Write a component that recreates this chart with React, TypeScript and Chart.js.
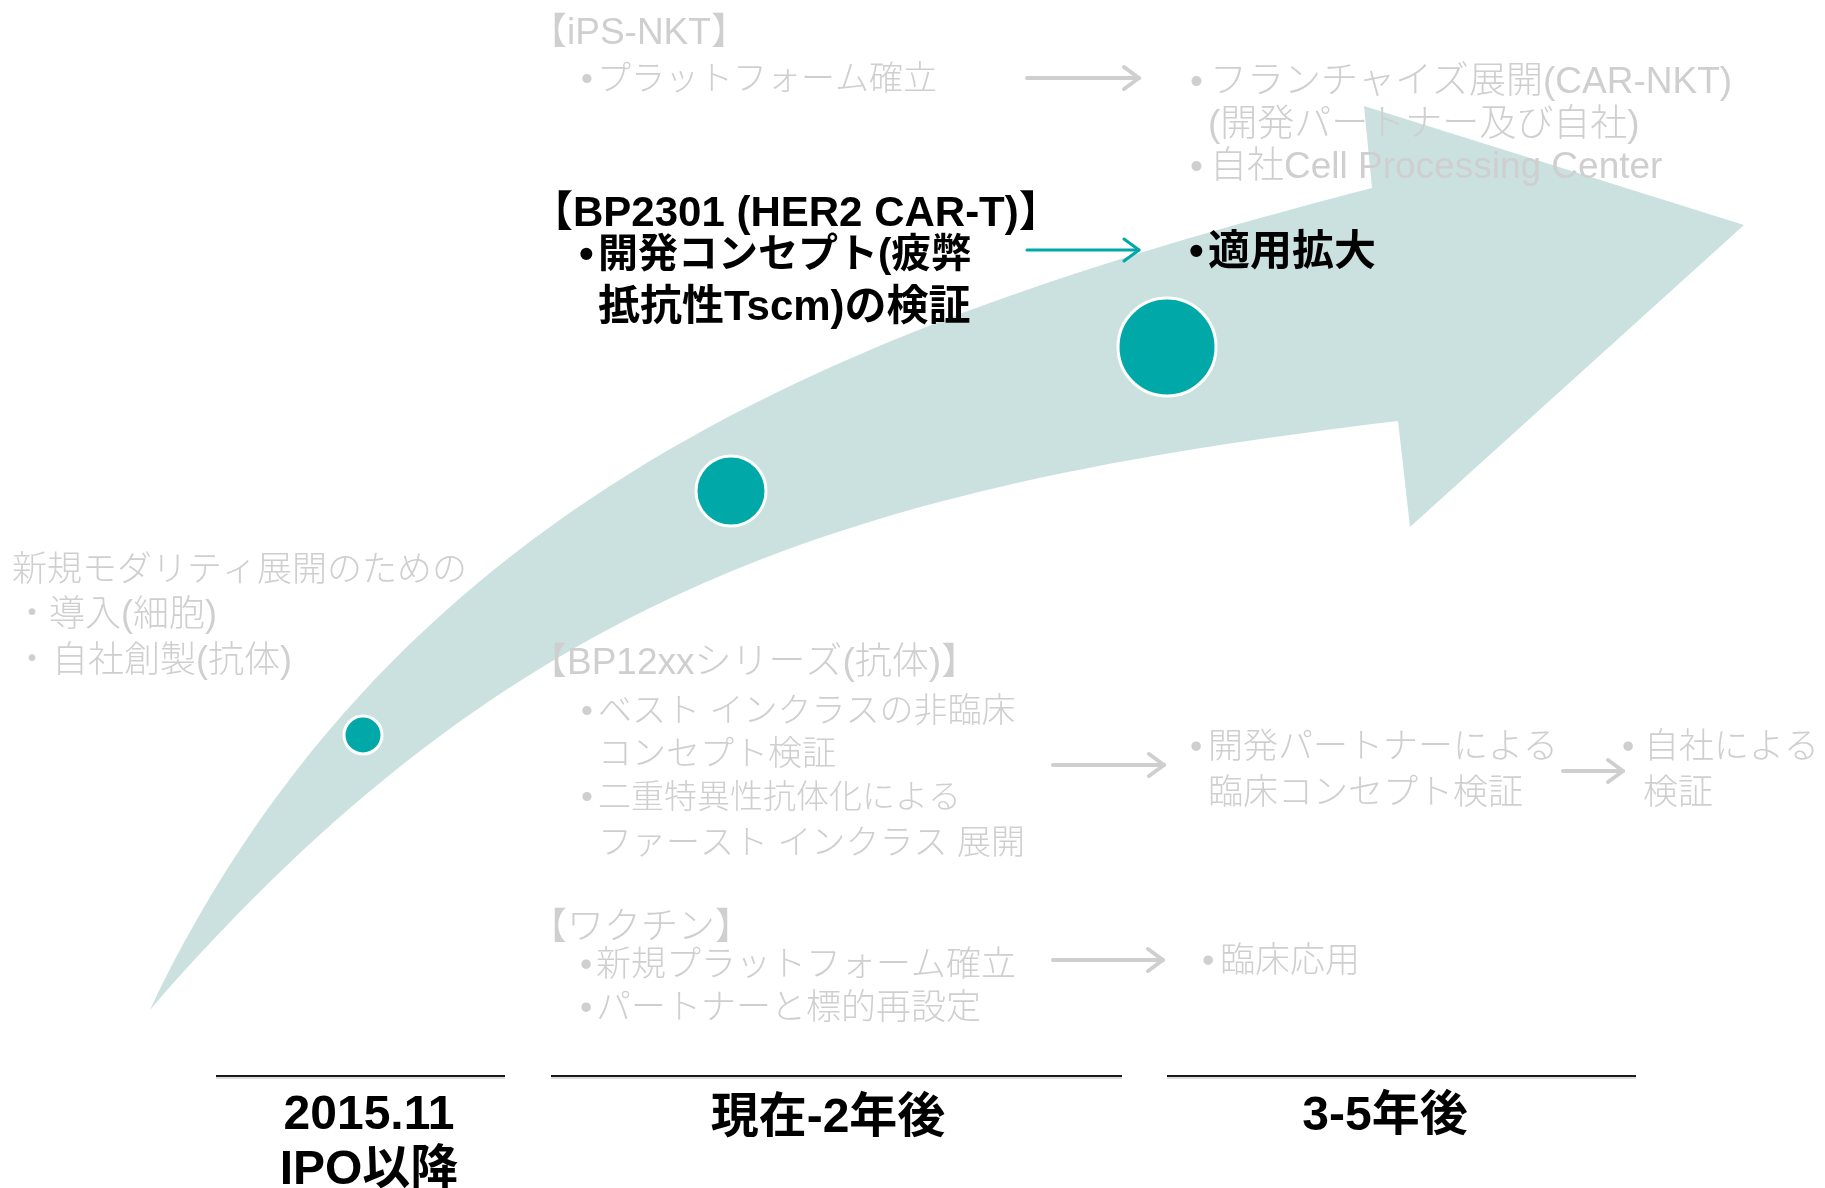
import React, { useEffect, useRef } from "react";
import { Chart, registerables } from "chart.js";

Chart.register(...registerables);

// ---- data ----
const stageX = [363, 731, 1167];
const stageY = [735, 491, 347];
const stageR = [19, 35, 49];

// arrow band: cubic Bezier control points of the two edges, and the head polygon
const arrowUpperX = [150, 400, 872, 1372];
const arrowUpperY = [1010, 485, 318, 188];
const arrowLowerX = [150, 515, 848, 1398];
const arrowLowerY = [1010, 590, 487, 421];
const arrowHeadX = [1372, 1364, 1744, 1410, 1398];
const arrowHeadY = [188, 106, 225, 527, 421];

const periodLabels = ["2015.11", "IPO以降", "現在-2年後", "3-5年後"];

const W = 1825;
const H = 1188;

const GRAY = "#cfcfcf";
const TEAL = "#00a9a7";
const BAND = "#cae1e0";
const FONT_R = '"Liberation Sans", "Noto Sans CJK JP", sans-serif';

type TextItem = { t: string; x: number; y: number; s: number; bold?: boolean; c?: string; align?: CanvasTextAlign };

const texts: TextItem[] = [
  { t: "【iPS-NKT】", x: 530, y: 34, s: 37 },
  { t: "•", x: 581, y: 81, s: 34 },
  { t: "プラットフォーム確立", x: 597, y: 81, s: 34 },
  { t: "•", x: 1190, y: 83, s: 37 },
  { t: "フランチャイズ展開(CAR-NKT)", x: 1210, y: 83, s: 37 },
  { t: "(開発パートナー及び自社)", x: 1208, y: 126, s: 37 },
  { t: "•", x: 1190, y: 168, s: 37 },
  { t: "自社Cell Processing Center", x: 1210, y: 168, s: 37 },
  { t: "新規モダリティ展開のための", x: 12, y: 571, s: 35 },
  { t: "・", x: 14, y: 616, s: 36 },
  { t: "導入(細胞)", x: 49, y: 616, s: 36 },
  { t: "・", x: 14, y: 662, s: 36 },
  { t: "自社創製(抗体)", x: 52, y: 662, s: 36 },
  { t: "【BP12xxシリーズ(抗体)】", x: 530, y: 664, s: 37 },
  { t: "•", x: 581, y: 713, s: 34 },
  { t: "ベスト インクラスの非臨床", x: 598, y: 713, s: 34 },
  { t: "コンセプト検証", x: 598, y: 756, s: 34 },
  { t: "•", x: 581, y: 799, s: 34 },
  { t: "二重特異性抗体化による", x: 598, y: 799, s: 33 },
  { t: "ファースト インクラス 展開", x: 598, y: 845, s: 34 },
  { t: "•", x: 1190, y: 748, s: 35 },
  { t: "開発パートナーによる", x: 1208, y: 748, s: 35 },
  { t: "臨床コンセプト検証", x: 1208, y: 794, s: 35 },
  { t: "•", x: 1622, y: 748, s: 35 },
  { t: "自社による", x: 1644, y: 748, s: 35 },
  { t: "検証", x: 1643, y: 794, s: 35 },
  { t: "【ワクチン】", x: 530, y: 929, s: 37 },
  { t: "•", x: 580, y: 966, s: 35 },
  { t: "新規プラットフォーム確立", x: 596, y: 966, s: 35 },
  { t: "•", x: 580, y: 1009, s: 35 },
  { t: "パートナーと標的再設定", x: 596, y: 1009, s: 35 },
  { t: "•", x: 1202, y: 962, s: 35 },
  { t: "臨床応用", x: 1220, y: 962, s: 35 },
  { t: "【BP2301 (HER2 CAR-T)】", x: 531, y: 214, s: 42, bold: true, c: "#000" },
  { t: "•", x: 579, y: 256, s: 42, bold: true, c: "#000" },
  { t: "開発コンセプト(疲弊", x: 598, y: 256, s: 40, bold: true, c: "#000" },
  { t: "抵抗性Tscm)の検証", x: 598, y: 308, s: 42, bold: true, c: "#000" },
  { t: "•", x: 1189, y: 253, s: 42, bold: true, c: "#000" },
  { t: "適用拡大", x: 1208, y: 253, s: 42, bold: true, c: "#000" },
  { t: periodLabels[0], x: 369, y: 1116, s: 48, bold: true, c: "#000", align: "center" },
  { t: periodLabels[1], x: 369, y: 1171, s: 48, bold: true, c: "#000", align: "center" },
  { t: periodLabels[2], x: 828, y: 1119, s: 48, bold: true, c: "#000", align: "center" },
  { t: periodLabels[3], x: 1385, y: 1117, s: 48, bold: true, c: "#000", align: "center" },
];

const flowArrows = [
  { x1: 1027, x2: 1139, y: 78, c: GRAY, w: 4 },
  { x1: 1027, x2: 1139, y: 250, c: TEAL, w: 3 },
  { x1: 1053, x2: 1164, y: 765, c: GRAY, w: 4 },
  { x1: 1563, x2: 1623, y: 771, c: GRAY, w: 4 },
  { x1: 1053, x2: 1163, y: 960, c: GRAY, w: 4 },
];

const rules = [
  [216, 505],
  [551, 1122],
  [1167, 1636],
];
const ruleY = 1076;

const diagramPlugin = {
  id: "diagram",
  beforeDatasetsDraw(chart: any) {
    const ctx: CanvasRenderingContext2D = chart.ctx;
    const xs = chart.scales.x;
    const ys = chart.scales.y;
    const px = (v: number) => xs.getPixelForValue(v);
    const py = (v: number) => ys.getPixelForValue(v);
    const u = arrowUpperX.map((x, i) => [px(x), py(arrowUpperY[i])]);
    const l = arrowLowerX.map((x, i) => [px(x), py(arrowLowerY[i])]);
    const head = arrowHeadX.map((x, i) => [px(x), py(arrowHeadY[i])]);
    ctx.save();
    ctx.beginPath();
    ctx.moveTo(u[0][0], u[0][1]);
    ctx.bezierCurveTo(u[1][0], u[1][1], u[2][0], u[2][1], u[3][0], u[3][1]);
    for (let i = 1; i < head.length; i++) ctx.lineTo(head[i][0], head[i][1]);
    ctx.lineTo(l[3][0], l[3][1]);
    ctx.bezierCurveTo(l[2][0], l[2][1], l[1][0], l[1][1], l[0][0], l[0][1]);
    ctx.closePath();
    ctx.fillStyle = BAND;
    ctx.fill();
    ctx.restore();
  },
  afterDatasetsDraw(chart: any) {
    const ctx: CanvasRenderingContext2D = chart.ctx;
    const xs = chart.scales.x;
    const ys = chart.scales.y;
    const px = (v: number) => xs.getPixelForValue(v);
    const py = (v: number) => ys.getPixelForValue(v);
    ctx.save();
    // period rules
    rules.forEach(([a, b]) => {
      ctx.beginPath();
      ctx.strokeStyle = "#bdbdbd";
      ctx.lineWidth = 1;
      ctx.moveTo(px(a), py(ruleY) + 2);
      ctx.lineTo(px(b), py(ruleY) + 2);
      ctx.stroke();
      ctx.beginPath();
      ctx.strokeStyle = "#1a1a1a";
      ctx.lineWidth = 2;
      ctx.moveTo(px(a), py(ruleY));
      ctx.lineTo(px(b), py(ruleY));
      ctx.stroke();
    });
    // flow arrows
    flowArrows.forEach((a) => {
      const x1 = px(a.x1), x2 = px(a.x2), y = py(a.y);
      ctx.strokeStyle = a.c;
      ctx.lineWidth = a.w;
      ctx.lineCap = "round";
      ctx.lineJoin = "round";
      ctx.beginPath();
      ctx.moveTo(x1, y);
      ctx.lineTo(x2, y);
      ctx.stroke();
      ctx.beginPath();
      ctx.moveTo(x2 - 15, y - 11);
      ctx.lineTo(x2, y);
      ctx.lineTo(x2 - 15, y + 11);
      ctx.stroke();
    });
    // texts
    ctx.textBaseline = "middle";
    texts.forEach((t) => {
      ctx.font = `${t.bold ? "bold" : "300"} ${t.s}px ${FONT_R}`;
      ctx.fillStyle = t.c || GRAY;
      ctx.textAlign = t.align || "left";
      ctx.fillText(t.t, px(t.x), py(t.y));
    });
    ctx.restore();
  },
};

export default function App() {
  const ref = useRef<HTMLCanvasElement | null>(null);
  useEffect(() => {
    document.body.style.margin = "0";
    if (!ref.current) return;
    const chart = new Chart(ref.current, {
      type: "bubble",
      data: {
        datasets: [
          {
            data: stageX.map((x, i) => ({ x, y: stageY[i], r: stageR[i] })),
            backgroundColor: TEAL,
            borderColor: "#ffffff",
            borderWidth: 3,
            hoverRadius: 0,
            clip: false,
          } as any,
        ],
      },
      options: {
        responsive: false,
        animation: false,
        events: [],
        layout: { padding: 0, autoPadding: false },
        scales: {
          x: { type: "linear", min: 0, max: W, display: false },
          y: { type: "linear", min: 0, max: H, reverse: true, display: false },
        },
        plugins: { legend: { display: false }, tooltip: { enabled: false } },
      },
      plugins: [diagramPlugin],
    });
    return () => chart.destroy();
  }, []);
  return (
    <div style={{ position: "fixed", left: 0, top: 0, width: W, height: H, background: "#fff" }}>
      <canvas ref={ref} width={W} height={H} style={{ width: W, height: H, display: "block" }} />
    </div>
  );
}
